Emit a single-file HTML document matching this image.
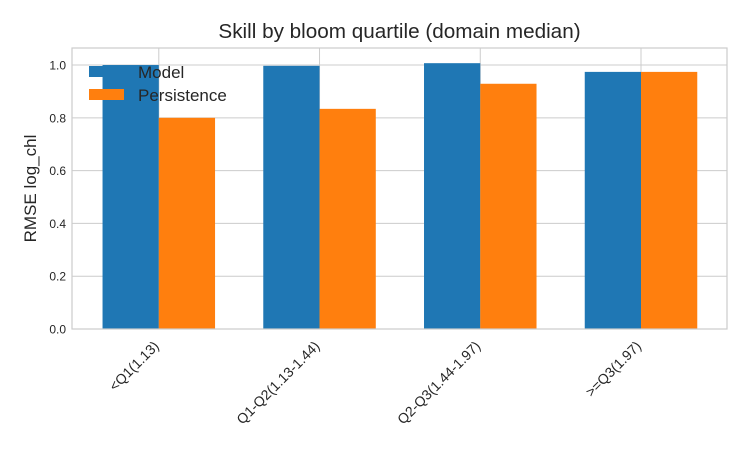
<!DOCTYPE html>
<html><head><meta charset="utf-8"><style>
body{margin:0;background:#fff;font-family:"Liberation Sans",sans-serif}
</style></head><body>
<svg id="c" width="750" height="450" xmlns="http://www.w3.org/2000/svg" font-family="Liberation Sans, sans-serif"></svg>
<script>
const categories=["<Q1(1.13)","Q1-Q2(1.13-1.44)","Q2-Q3(1.44-1.97)",">=Q3(1.97)"];
const modelValues=[1.0,0.997,1.007,0.974];
const persistenceValues=[0.80,0.834,0.929,0.974];
const yTicks=[0,0.2,0.4,0.6,0.8,1.0];
const yTickLabels=["0.0","0.2","0.4","0.6","0.8","1.0"];
const L=72,R=727,T=48,B=329;
const xmin=-0.54,xmax=3.535,ymax=1.0645;
const bw=0.35;
function X(v){return L+(v-xmin)/(xmax-xmin)*(R-L);}
function Y(v){return B-v/ymax*(B-T);}
const s=document.getElementById('c');const NS="http://www.w3.org/2000/svg";
function mk(t,a,txt){const e=document.createElementNS(NS,t);for(const k in a)e.setAttribute(k,a[k]);if(txt!==undefined)e.textContent=txt;s.appendChild(e);return e;}
let e;
e=mk('rect',{x:L,y:T,width:R-L,height:B-T,fill:'#fff'});


yTicks.forEach((v,i)=>{
 e=mk('line',{x1:L,x2:R,y1:Y(v),y2:Y(v),stroke:'#cccccc','stroke-width':1});
 
 
 e=mk('text',{x:L-6,y:Y(v)+4.5,'text-anchor':'end','font-size':12,fill:'#262626'},yTickLabels[i]);
 
 
});
categories.forEach((c,i)=>{
 e=mk('line',{x1:X(i),x2:X(i),y1:T,y2:B,stroke:'#cccccc','stroke-width':1});
 
 
});
categories.forEach((c,i)=>{
 e=mk('rect',{x:X(i-bw),y:Y(modelValues[i]),width:X(i)-X(i-bw),height:B-Y(modelValues[i]),fill:'#1f77b4'});
 
 
 e=mk('rect',{x:X(i),y:Y(persistenceValues[i]),width:X(i+bw)-X(i),height:B-Y(persistenceValues[i]),fill:'#ff7f0e'});
 
 
 const tx=X(i)+1, ty=B+18;
 e=mk('text',{x:tx,y:ty,'text-anchor':'end','font-size':14,fill:'#262626',transform:`rotate(-45 ${tx} ${ty})`},c);
 
 
});
e=mk('rect',{x:L,y:T,width:R-L,height:B-T,fill:'none',stroke:'#cccccc','stroke-width':1.2});


e=mk('text',{x:(L+R)/2,y:38,'text-anchor':'middle','font-size':20.7,fill:'#262626'},'Skill by bloom quartile (domain median)');


e=mk('text',{x:36,y:(T+B)/2,'text-anchor':'middle','font-size':17,fill:'#262626',transform:`rotate(-90 36 ${(T+B)/2})`},'RMSE log_chl');


e=mk('rect',{x:89,y:66,width:35,height:11,fill:'#1f77b4'});


e=mk('text',{x:138,y:78,'font-size':17,fill:'#262626'},'Model');


e=mk('rect',{x:89,y:89,width:35,height:11,fill:'#ff7f0e'});


e=mk('text',{x:138,y:101,'font-size':17,fill:'#262626'},'Persistence');


</script>
</body></html>
